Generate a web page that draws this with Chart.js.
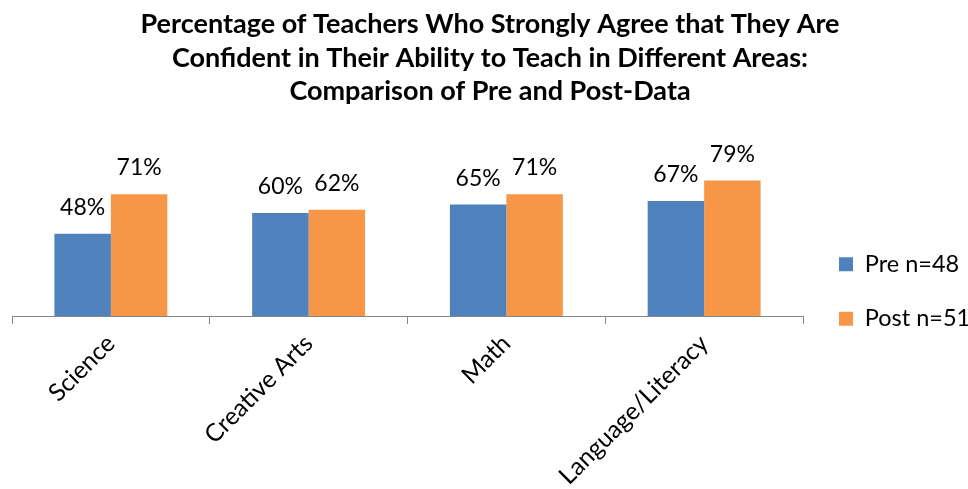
<!DOCTYPE html>
<html>
<head>
<meta charset="utf-8">
<script src="https://cdn.jsdelivr.net/npm/chart.js@4.4.1/dist/chart.umd.min.js"></script>
<style>
  html, body { margin: 0; padding: 0; background: #ffffff; }
  #wrap { width: 968px; height: 489px; position: relative; }
</style>
</head>
<body>
<div id="wrap"><canvas id="c" width="968" height="489"></canvas></div>
<script>
const categories = ["Science", "Creative Arts", "Math", "Language/Literacy"];
const preValues = [48, 60, 65, 67];
const postValues = [71, 62, 71, 79];
const seriesNames = ["Pre n=48", "Post n=51"];
const titleLines = [
  "Percentage of Teachers Who Strongly Agree that They Are",
  "Confident in Their Ability to Teach in Different Areas:",
  "Comparison of Pre and Post-Data"
];

const FONT = "Lato";

const valueLabels = {
  id: "valueLabels",
  afterDatasetsDraw(chart) {
    const ctx = chart.ctx;
    ctx.save();
    ctx.font = "23px " + FONT;
    ctx.fillStyle = "#000000";
    ctx.textAlign = "center";
    ctx.textBaseline = "alphabetic";
    chart.data.datasets.forEach((ds, di) => {
      const meta = chart.getDatasetMeta(di);
      meta.data.forEach((bar, i) => {
        ctx.fillText(ds.data[i] + "%", bar.x, bar.y - 19);
      });
    });
    ctx.restore();
  }
};

const legendTweak = {
  id: "legendTweak",
  beforeInit(chart) {
    const lg = chart.legend;
    if (lg && !lg._patched) {
      const origFit = lg.fit.bind(lg);
      lg.fit = function () { origFit(); this.width = 165; };
      lg._patched = true;
    }
  },
  afterLayout(chart) {
    const lg = chart.legend;
    lg.left += 5;
    lg.top += 47;
    lg.bottom += 47;
  }
};

new Chart(document.getElementById("c"), {
  type: "bar",
  data: {
    labels: categories,
    datasets: [
      { label: seriesNames[0], data: preValues, backgroundColor: "#4F81BD", borderWidth: 0 },
      { label: seriesNames[1], data: postValues, backgroundColor: "#F79646", borderWidth: 0 }
    ]
  },
  options: {
    responsive: false,
    animation: false,
    devicePixelRatio: 1,
    layout: { padding: { left: 12, right: 0, top: 0, bottom: 0 } },
    datasets: { bar: { categoryPercentage: 0.571, barPercentage: 1.0 } },
    plugins: {
      title: {
        display: true,
        text: titleLines,
        color: "#000000",
        font: { family: FONT, size: 27, weight: "bold", lineHeight: 33.5 / 27 },
        padding: { top: 8, bottom: 36 }
      },
      legend: {
        position: "right",
        align: "center",
        labels: {
          color: "#000000",
          font: { family: FONT, size: 23.5 },
          boxWidth: 14,
          boxHeight: 14,
          padding: 31
        }
      },
      tooltip: { enabled: false }
    },
    scales: {
      x: {
        grid: { display: true, offset: true, drawOnChartArea: false, drawTicks: true, tickLength: 8, color: "#868686", lineWidth: 1 },
        border: { display: true, color: "#868686", width: 1 },
        ticks: { color: "#000000", font: { family: FONT, size: 24.5 }, minRotation: 45, maxRotation: 45, padding: 5 },
        afterFit(scale) { scale.height = 173; }
      },
      y: {
        display: false,
        min: 0,
        max: 100
      }
    }
  },
  plugins: [valueLabels, legendTweak]
});
</script>
</body>
</html>
